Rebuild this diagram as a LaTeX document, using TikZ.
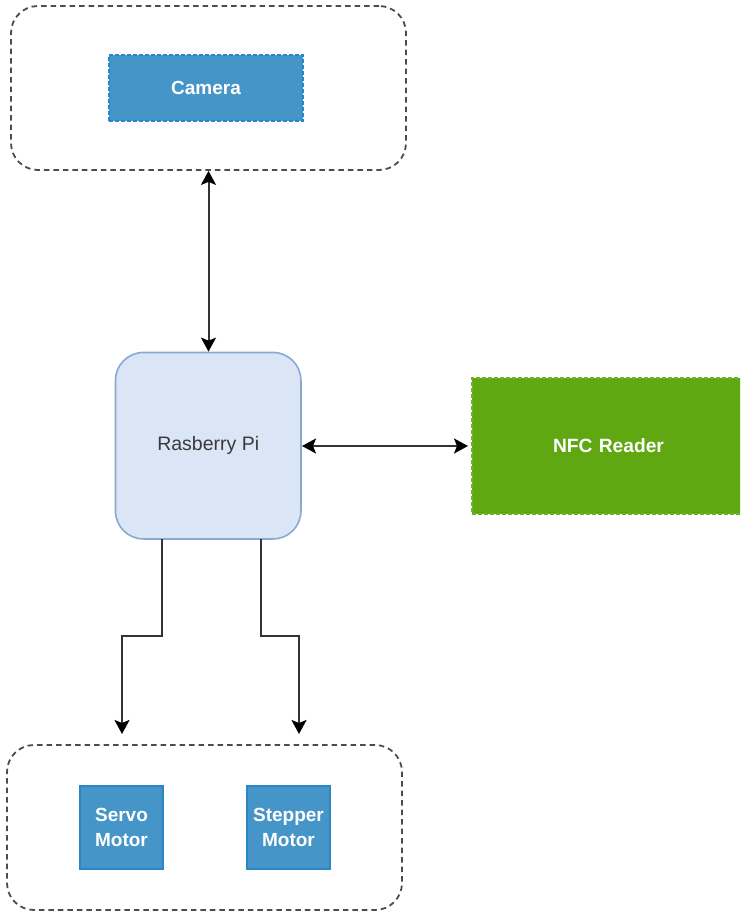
\documentclass[tikz,border=0pt]{standalone}
\usepackage{fontspec}
\setmainfont{Liberation Sans}
\usetikzlibrary{arrows.meta,calc}
\definecolor{bluefill}{HTML}{4695C9}
\definecolor{blueline}{HTML}{2A86C4}
\definecolor{pifill}{HTML}{DAE6F6}
\definecolor{piline}{HTML}{8AA8D2}
\definecolor{greenfill}{HTML}{5FA812}
\definecolor{greenline}{HTML}{6FB22C}
\definecolor{darktext}{HTML}{3A3A3A}
\tikzset{
  group/.style={draw=black!70,line width=1.8pt,dash pattern=on 5.5pt off 4pt,rounded corners=27pt,inner sep=0pt,minimum width=395pt,minimum height=164pt},
  bluebox/.style={fill=bluefill,draw=blueline,line width=1.4pt,inner sep=0pt,text=white,font=\fontsize{19}{25}\selectfont\bfseries,align=center},
  pibox/.style={fill=pifill,draw=piline,line width=1.6pt,rounded corners=28pt,inner sep=0pt,minimum width=185.5pt,minimum height=186.5pt,text=darktext,font=\fontsize{19.5}{24}\selectfont},
  greenbox/.style={fill=greenfill,draw=greenline,line width=1.4pt,dash pattern=on 4pt off 2pt,inner sep=0pt,text=white,font=\fontsize{19.2}{24}\selectfont\bfseries},
  link/.style={draw=black!80,line width=2pt,-{Stealth[length=14pt,width=15pt,inset=3pt,color=black]}},
  twoway/.style={draw=black!80,line width=2pt,{Stealth[length=14pt,width=15pt,inset=3pt,color=black]}-{Stealth[length=14pt,width=15pt,inset=3pt,color=black]}}
}
\begin{document}
\begin{tikzpicture}[x=1pt,y=-1pt]
\useasboundingbox (0,0) rectangle (740,912);
\node[group] (top) at (208.5,88) {};
\node[bluebox,dash pattern=on 4pt off 2pt,minimum width=194pt,minimum height=66pt] (camera) at (206,88) {\raisebox{0.5pt}{Camera}};
\node[pibox] (pi) at (208.2,445.7) {\raisebox{-1.5pt}{Rasberry Pi}};
\begin{scope}
\clip (0,0) rectangle (740,912);
\node[greenbox,minimum width=272pt,minimum height=136pt,text width=272pt,align=left] (nfc) at (608,446) {\hspace{81pt}\raisebox{0.5pt}{NFC Reader}};
\end{scope}
\node[group,minimum height=165pt] (bottom) at (204.5,827.5) {};
\node[bluebox,minimum width=83pt,minimum height=83pt] (servo) at (121.5,827.5) {Servo\\Motor};
\node[bluebox,minimum width=83pt,minimum height=83pt] (stepper) at (288.5,827.5) {Stepper\\Motor};
\coordinate (piA) at (162,539);
\coordinate (piB) at (260.5,539);
\coordinate (servoIn) at (122,734);
\coordinate (stepperIn) at (299,734);
\coordinate (piEast) at (302,446);
\coordinate (nfcWest) at (468,446);
\draw[twoway] (top.south) -- (top.south |- pi.north);
\draw[twoway] (piEast) -- (nfcWest);
\draw[link] (piA) -- (162,636) -- (122,636) -- (servoIn);
\draw[link] (piB) -- (260.5,636) -- (299,636) -- (stepperIn);
\end{tikzpicture}
\end{document}
